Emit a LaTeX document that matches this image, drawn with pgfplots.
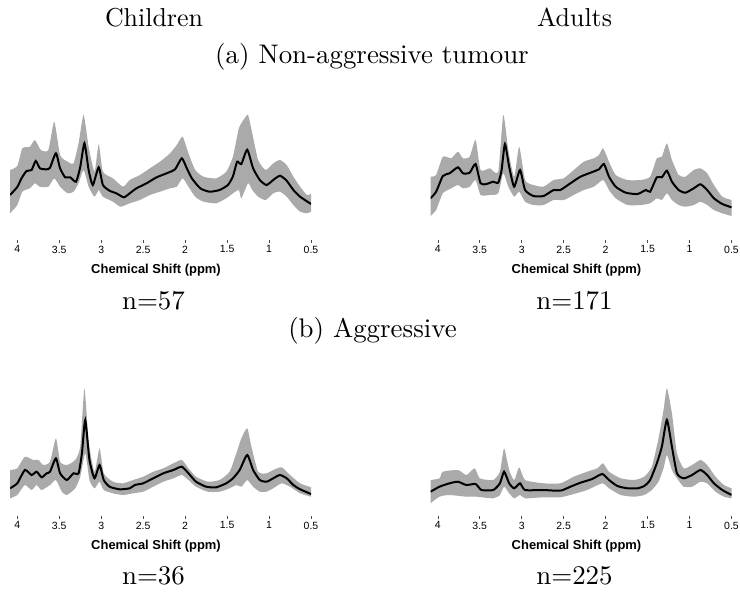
\documentclass[border=0pt]{standalone}
\usepackage{fontspec}
\setsansfont{Liberation Sans}
\newfontfamily\headfamily{lmroman10-regular}[Extension=.otf]
\usepackage{pgfplots}
\pgfplotsset{compat=1.18}
\usepgfplotslibrary{fillbetween}

\definecolor{bandgray}{RGB}{170,170,170}

\tikzset{corner/.style={black!70, line width=0.6bp}}

% common look of one spectrum panel
\pgfplotsset{
  spectrum/.style={
    scale only axis,
    width=301bp, height=132bp,
    xmin=0.5, xmax=4.087, ymin=-2, ymax=130,
    x dir=reverse,
    axis line style={draw=none},
    ytick=\empty,
    xtick pos=left,
    xtick={0.5,1,1.5,2,2.5,3,3.5,4},
    xticklabels={0.5,1,1.5,2,2.5,3,3.5,4},
    tick align=inside,
    major tick length=3.5bp,
    tick style={black!70, line width=0.6bp},
    xticklabel style={inner sep=0pt, yshift=-2.5bp, font=\sffamily\fontsize{10.5}{12}\selectfont},
    xlabel={Chemical Shift (ppm)},
    xlabel style={font=\sffamily\bfseries\fontsize{13}{15}\selectfont,
      at={(axis description cs:0.5,0)}, anchor=base, yshift=-30bp, xshift=-4.5bp},
    anchor=south west,
    every axis plot/.append style={smooth, tension=0.35},
  },
  band/.style={draw=none, forget plot},
  mean/.style={black, line width=2bp},
}

% short stub at the lower left corner of a panel
\newcommand{\cornerstub}{%
  \draw[corner] ([yshift=-0.8bp]axis description cs:0,0) -- ([xshift=3bp,yshift=-0.8bp]axis description cs:0,0);}

\newcommand{\headfont}{\headfamily\fontsize{27}{32}\selectfont}
\newcommand{\groupfont}{\headfamily\fontsize{26}{31}\selectfont}

\begin{document}
\begin{tikzpicture}
% page frame
\path (0,0) rectangle (740bp,-594bp);

% ---------- (a) non-aggressive, children ----------
\begin{axis}[spectrum, at={(10bp,-243bp)}]
\addplot[band, name path=U] coordinates {
(4.087,71) (4.0,75) (3.94,92.7) (3.85,94.3) (3.79,101) (3.72,91) (3.63,91) (3.56,119.3) (3.49,86) (3.40,79.3) (3.33,77.7) (3.27,97.7) (3.21,126) (3.15,94.3) (3.08,69.3) (3.03,96.7) (2.98,69.3) (2.86,62.7) (2.74,54.3) (2.66,61) (2.54,66) (2.42,72.7) (2.30,79.3) (2.18,87.7) (2.10,96) (2.03,104.3) (1.96,87.7) (1.88,71) (1.78,64.3) (1.63,62.7) (1.51,69.3) (1.43,84.3) (1.36,112.7) (1.29,122.7) (1.25,126) (1.20,107.7) (1.13,81) (1.04,71) (0.95,77.7) (0.87,81) (0.79,76) (0.71,64.3) (0.63,54.3) (0.55,46) (0.5,47)};
\addplot[band, name path=L] coordinates {
(4.087,27.7) (4.0,36) (3.94,49.3) (3.85,52.7) (3.79,57.7) (3.73,54.3) (3.63,54.3) (3.56,62.7) (3.49,54.3) (3.40,47.7) (3.33,49.3) (3.27,57.7) (3.21,71) (3.15,54.3) (3.08,44.3) (3.03,51) (2.98,44.3) (2.86,39.3) (2.77,34.3) (2.66,37.7) (2.54,41) (2.42,46) (2.30,49.3) (2.18,52.7) (2.10,54.3) (2.03,62.7) (1.96,54.3) (1.88,44.3) (1.78,39.3) (1.63,37.7) (1.51,42.7) (1.43,47.7) (1.36,51) (1.33,42.7) (1.25,57.7) (1.20,51) (1.13,44.3) (1.04,41) (0.95,47.7) (0.87,49.3) (0.79,44.3) (0.71,36) (0.63,29.3) (0.55,27.7) (0.5,29.3)};
\addplot[fill=bandgray, draw=none] fill between[of=U and L];
\addplot[mean] coordinates {
(4.087,46) (4.0,54) (3.95,62.7) (3.89,70) (3.83,71) (3.78,80) (3.73,72.7) (3.65,71.7) (3.61,73.3) (3.54,87.7) (3.49,72.7) (3.43,63.7) (3.37,63.7) (3.30,59.3) (3.25,74) (3.20,97.7) (3.15,71) (3.10,56) (3.03,73.7) (2.98,56) (2.90,50.3) (2.82,47.7) (2.73,43.7) (2.66,47.7) (2.58,52.7) (2.46,57.7) (2.34,63.7) (2.22,67.7) (2.12,71.7) (2.04,82.7) (1.98,72.7) (1.92,62.7) (1.82,52.7) (1.71,49.3) (1.59,51) (1.49,56) (1.43,64.7) (1.38,79.3) (1.33,77) (1.26,91.3) (1.19,72.7) (1.11,61) (1.03,56) (0.95,61) (0.87,65.3) (0.79,60.3) (0.71,51) (0.63,44.3) (0.5,37)};
\cornerstub
\end{axis}

% ---------- (a) non-aggressive, adults ----------
\begin{axis}[spectrum, at={(430.5bp,-243bp)}]
\addplot[band, name path=U] coordinates {
(4.087,64.3) (4.02,66) (3.94,84.3) (3.84,82.7) (3.76,89.3) (3.70,82.7) (3.62,84.3) (3.55,101) (3.49,71) (3.38,72.7) (3.28,69.3) (3.22,126) (3.16,91) (3.09,64.3) (3.03,94.3) (2.96,61) (2.86,56) (2.74,54.3) (2.62,61) (2.50,62.7) (2.38,71) (2.26,79.3) (2.14,82.7) (2.08,86) (2.03,92.7) (1.96,79.3) (1.88,66) (1.74,61) (1.58,61) (1.47,64.3) (1.39,82.7) (1.33,84.3) (1.27,97.7) (1.21,81) (1.13,66) (1.05,64.3) (0.95,71) (0.87,72.7) (0.79,67.7) (0.71,56) (0.61,44.3) (0.5,41)};
\addplot[band, name path=L] coordinates {
(4.087,25) (4.02,31) (3.94,47.7) (3.84,52.7) (3.76,56) (3.70,52.7) (3.62,54.3) (3.55,61) (3.49,46) (3.38,46) (3.28,47.7) (3.22,67.7) (3.16,54.3) (3.09,44.3) (3.03,49.3) (2.96,39.3) (2.86,36) (2.74,36) (2.62,41) (2.50,41) (2.38,46) (2.26,51) (2.14,54.3) (2.03,61) (1.96,51) (1.88,42.7) (1.74,36) (1.58,36) (1.47,37.7) (1.39,42.7) (1.33,41) (1.27,47.7) (1.21,41) (1.13,36) (1.05,34.3) (0.95,36) (0.87,39.3) (0.79,36) (0.71,31) (0.61,27.7) (0.5,25)};
\addplot[fill=bandgray, draw=none] fill between[of=U and L];
\addplot[mean] coordinates {
(4.087,42.7) (4.02,49.3) (3.94,65) (3.86,67.7) (3.76,73.7) (3.70,67.7) (3.62,68.3) (3.55,77) (3.49,57.7) (3.42,57) (3.34,59.3) (3.28,58.3) (3.24,71) (3.20,97) (3.15,74.3) (3.09,54.3) (3.02,71) (2.96,51) (2.86,45) (2.74,45) (2.62,51) (2.54,51) (2.42,57.7) (2.30,64.3) (2.18,68.3) (2.08,71.7) (2.02,77) (1.96,64.3) (1.88,54.3) (1.76,48.3) (1.62,47) (1.52,51) (1.47,49.3) (1.39,63.7) (1.33,63.7) (1.27,70.3) (1.21,59.3) (1.13,51) (1.05,48.3) (0.95,52.7) (0.87,56.7) (0.79,51) (0.71,42.7) (0.61,37) (0.5,33.7)};
\cornerstub
\end{axis}

% ---------- (b) aggressive, children ----------
\begin{axis}[spectrum, at={(10bp,-519bp)}]
\addplot[band, name path=U] coordinates {
(4.087,47) (4.0,48.7) (3.91,60.3) (3.81,57) (3.75,57) (3.69,52) (3.61,55.3) (3.54,78.7) (3.49,55.3) (3.41,52) (3.31,57) (3.25,70.3) (3.20,128.7) (3.15,75.3) (3.08,45.3) (3.02,68.7) (2.97,43.7) (2.86,35.3) (2.74,33.7) (2.62,37) (2.50,40.3) (2.38,45.3) (2.26,48.7) (2.14,53.7) (2.04,57) (1.96,48.7) (1.87,40.3) (1.73,35.3) (1.59,37) (1.47,45.3) (1.39,63.7) (1.33,78.7) (1.26,88.7) (1.21,70.3) (1.13,45.3) (1.03,43.7) (0.95,47) (0.85,49.7) (0.75,42) (0.63,33.7) (0.5,29.7)};
\addplot[band, name path=L] coordinates {
(4.087,18.7) (4.0,22) (3.91,32) (3.83,27) (3.77,32) (3.71,27) (3.61,32) (3.54,37) (3.47,25.3) (3.41,22) (3.31,28.7) (3.25,40.3) (3.19,63.7) (3.14,37) (3.08,28.7) (3.02,35.3) (2.97,27) (2.86,23.7) (2.74,22) (2.62,23.7) (2.50,25.3) (2.38,30.3) (2.26,35.3) (2.14,38.7) (2.04,42) (1.96,37) (1.87,30.3) (1.73,25.3) (1.59,25.3) (1.47,28.7) (1.39,32) (1.33,30.3) (1.26,37) (1.19,30.3) (1.11,25.3) (1.03,25.3) (0.95,28.7) (0.85,33.7) (0.75,30.3) (0.63,23.7) (0.5,20.3)};
\addplot[fill=bandgray, draw=none] fill between[of=U and L];
\addplot[mean] coordinates {
(4.087,28.7) (4.0,33.7) (3.91,47) (3.83,42) (3.77,45.3) (3.71,39.7) (3.65,43.7) (3.61,45.3) (3.54,58.7) (3.49,43.7) (3.41,37) (3.33,43.7) (3.27,43.7) (3.23,63.7) (3.19,97) (3.14,57) (3.08,38.7) (3.02,52) (2.97,37) (2.90,30.3) (2.78,27.7) (2.66,28.7) (2.60,32) (2.50,33.7) (2.38,38.7) (2.26,43.7) (2.14,47) (2.04,50.3) (1.96,43.7) (1.87,35.3) (1.75,30.3) (1.63,29.7) (1.51,33.7) (1.43,38.7) (1.35,47) (1.26,62) (1.19,47) (1.11,37) (1.03,35.3) (0.95,38.7) (0.87,42) (0.79,38.7) (0.71,32) (0.63,27.7) (0.5,23)};
\cornerstub
\end{axis}

% ---------- (b) aggressive, adults ----------
\begin{axis}[spectrum, at={(430.5bp,-519bp)}]
\addplot[band, name path=U] coordinates {
(4.087,37) (3.98,38.7) (3.94,45.3) (3.76,47) (3.66,42) (3.56,48.7) (3.50,38.7) (3.34,37) (3.26,45.3) (3.21,68.7) (3.15,47) (3.09,37) (3.03,49.7) (2.96,37) (2.74,33.7) (2.54,33.7) (2.38,40.3) (2.22,45.3) (2.10,48.7) (2.03,53.7) (1.96,45.3) (1.82,38.7) (1.66,37) (1.54,40.3) (1.45,50.3) (1.37,78.7) (1.31,107) (1.27,128.7) (1.21,103.7) (1.15,63.7) (1.07,48.7) (0.97,52) (0.87,57) (0.79,52) (0.69,40.3) (0.59,32) (0.5,28.7)};
\addplot[band, name path=L] coordinates {
(4.087,13.7) (3.98,20.3) (3.86,22) (3.66,20.3) (3.54,20.3) (3.34,18.7) (3.26,22) (3.21,30.3) (3.15,23.7) (3.09,18.7) (3.02,22) (2.96,18.7) (2.74,19.7) (2.54,19.7) (2.38,23) (2.22,27) (2.04,33.7) (1.96,28.7) (1.82,22) (1.66,20.3) (1.54,22) (1.45,27) (1.37,35.3) (1.31,48.7) (1.27,62) (1.21,47) (1.15,38.7) (1.07,30.3) (0.97,30.3) (0.87,35.3) (0.79,33.7) (0.69,25.3) (0.59,20.3) (0.5,18.7)};
\addplot[fill=bandgray, draw=none] fill between[of=U and L];
\addplot[mean] coordinates {
(4.087,25.3) (3.98,30.3) (3.86,33.7) (3.76,35.3) (3.66,32) (3.55,33) (3.48,27) (3.34,27) (3.26,33.7) (3.21,45.3) (3.15,33.7) (3.09,28.7) (3.02,33.7) (2.96,27) (2.74,27) (2.54,26.3) (2.42,30.3) (2.30,34.3) (2.16,38) (2.04,43) (1.96,37) (1.86,31) (1.74,28.7) (1.62,28.7) (1.54,31) (1.47,37) (1.39,53.7) (1.33,70.3) (1.27,97) (1.21,70.3) (1.15,43.7) (1.07,38.7) (0.97,42) (0.87,47) (0.79,42) (0.71,33.7) (0.61,27) (0.5,22)};
\cornerstub
\end{axis}

% ---------- headings and group sizes ----------
\node[anchor=base, font=\groupfont] at (154bp,-26bp) {Children};
\node[anchor=base, font=\groupfont] at (574.5bp,-26bp) {Adults};
\node[anchor=base, font=\headfont] at (372bp,-63bp) {(a) Non-aggressive tumour};
\node[anchor=base, font=\headfont] at (153.5bp,-309bp) {n=57};
\node[anchor=base, font=\headfont] at (574.5bp,-309bp) {n=171};
\node[anchor=base, font=\headfont] at (372.5bp,-337bp) {(b) Aggressive};
\node[anchor=base, font=\headfont] at (153.5bp,-584bp) {n=36};
\node[anchor=base, font=\headfont] at (574.5bp,-584bp) {n=225};
\end{tikzpicture}
\end{document}
